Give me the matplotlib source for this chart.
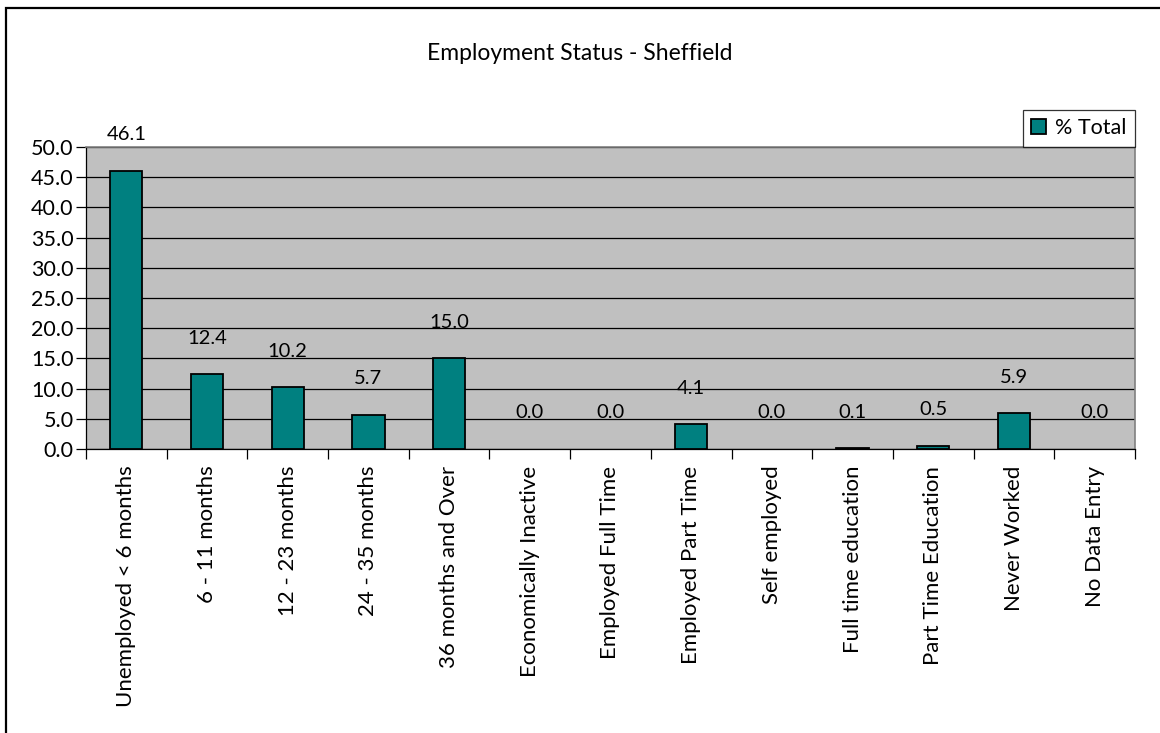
import matplotlib
matplotlib.use("Agg")
import matplotlib.pyplot as plt
from matplotlib.patches import Rectangle
from matplotlib.ticker import FixedLocator, NullFormatter, FixedFormatter

plt.rcParams['font.family'] = ['Lato', 'DejaVu Sans']

categories = [
    "Unemployed < 6 months", "6 - 11 months", "12 - 23 months", "24 - 35 months",
    "36 months and Over", "Economically Inactive", "Employed Full Time",
    "Employed Part Time", "Self employed", "Full time education",
    "Part Time Education", "Never Worked", "No Data Entry",
]
pct_total = [46.1, 12.4, 10.2, 5.7, 15.0, 0.0, 0.0, 4.1, 0.0, 0.1, 0.5, 5.9, 0.0]
y_ticks = [0, 5, 10, 15, 20, 25, 30, 35, 40, 45, 50]

fig = plt.figure(figsize=(11.6, 7.33), dpi=100)
W, H = 1160, 733

# outer chart frame
fig.patches.append(Rectangle((6 / W, -0.05), 1.2, 1 - 8 / H + 0.05,
                             transform=fig.transFigure, fill=False,
                             edgecolor="black", linewidth=1.6))

ax = fig.add_axes([86 / W, 1 - 449 / H, (1135 - 86) / W, (449 - 147) / H])
ax.set_facecolor("#C0C0C0")

x = list(range(len(categories)))
bars = ax.bar(x, pct_total, width=0.4, color="#008080", edgecolor="black",
              linewidth=1.3, zorder=3, label="% Total")
for b, v in zip(bars, pct_total):
    if v == 0:
        b.set_linewidth(0)

# value labels sit a fixed distance above each bar
for xi, v in zip(x, pct_total):
    ax.annotate(f"{v:.1f}", (xi, v), xytext=(0, 22), textcoords="offset points",
                ha="center", va="baseline", fontsize=14.5, zorder=4)

ax.set_xlim(-0.5, len(categories) - 0.5)
ax.set_ylim(0, 50)
ax.set_yticks(y_ticks)
ax.set_yticklabels([f"{t:.1f}" for t in y_ticks], fontsize=15.5)
ax.yaxis.grid(True, color="black", linewidth=0.9, zorder=1)
ax.set_axisbelow(True)

# category ticks at boundaries, labels centred under bars
ax.xaxis.set_major_locator(FixedLocator([i - 0.5 for i in range(len(categories) + 1)]))
ax.xaxis.set_major_formatter(NullFormatter())
ax.xaxis.set_minor_locator(FixedLocator(x))
ax.xaxis.set_minor_formatter(FixedFormatter(categories))
ax.tick_params(axis="x", which="major", length=7, width=0.9, direction="out")
ax.tick_params(axis="x", which="minor", length=0, pad=12, labelsize=16,
               labelrotation=90)
ax.tick_params(axis="y", length=7, width=0.9, direction="out", pad=2)

for side in ("top", "right"):
    ax.spines[side].set_color("#808080")
    ax.spines[side].set_linewidth(1.2)
ax.spines["left"].set_color("black")
ax.spines["bottom"].set_color("black")
ax.spines["left"].set_linewidth(0.9)
ax.spines["bottom"].set_linewidth(0.9)

fig.text(0.5, 1 - 53 / H, "Employment Status - Sheffield", ha="center",
         va="center", fontsize=16.5)

leg = ax.legend(loc="lower right", bbox_to_anchor=(1.0, 1.0), frameon=True,
                fancybox=False, fontsize=15.5, handlelength=0.7, handleheight=0.7,
                handletextpad=0.4, borderpad=0.4, borderaxespad=0)
leg.get_frame().set_edgecolor("black")
leg.get_frame().set_linewidth(0.9)

fig.savefig("out.png", dpi=100)
